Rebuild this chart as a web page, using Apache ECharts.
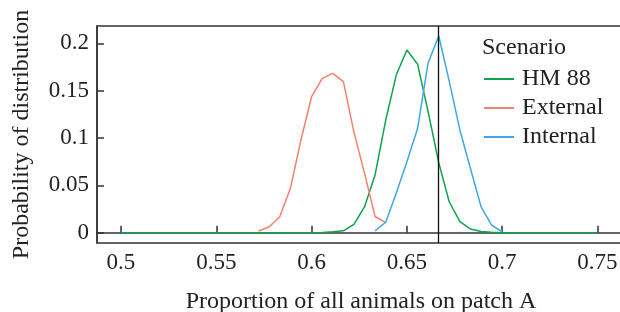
<!DOCTYPE html>
<html>
<head>
<meta charset="utf-8">
<style>
  html, body { margin: 0; padding: 0; background: #fff; }
  #chart { width: 620px; height: 312px; }
</style>
<script src="https://cdn.jsdelivr.net/npm/echarts@6/dist/echarts.min.js"></script>
</head>
<body>
<div id="chart"></div>
<script>
// proportion of animals on patch A (k / 180)
const proportion = [
  0.5, 0.5056, 0.5111, 0.5167, 0.5222, 0.5278, 0.5333, 0.5389, 0.5444, 0.55,
  0.5556, 0.5611, 0.5667, 0.5722, 0.5778, 0.5833, 0.5889, 0.5944, 0.6, 0.6056,
  0.6111, 0.6167, 0.6222, 0.6278, 0.6333, 0.6389, 0.6444, 0.65, 0.6556, 0.6611,
  0.6667, 0.6722, 0.6778, 0.6833, 0.6889, 0.6944, 0.7, 0.7056, 0.7111, 0.7167,
  0.7222, 0.7278, 0.7333, 0.7389, 0.7444, 0.75
];
const hm88 = [
  0, 0, 0, 0, 0, 0, 0, 0, 0, 0,
  0, 0, 0, 0, 0, 0, 0, 0, 0, 0.0003,
  0.001, 0.002, 0.0089, 0.0275, 0.061, 0.119, 0.1665, 0.193, 0.178, 0.128,
  0.074, 0.0327, 0.0116, 0.004, 0.0013, 0.0004, 0, 0, 0, 0,
  0, 0, 0, 0, 0, 0
];
const external = [
  null, null, null, null, null, null, null, null, null, null,
  null, null, null, 0.0018, 0.0063, 0.0169, 0.0469, 0.0979, 0.1436, 0.163,
  0.1683, 0.1595, 0.1063, 0.0627, 0.0171, 0.0106, null, null, null, null,
  null, null, null, null, null, null, null, null, null, null,
  null, null, null, null, null, null
];
const internal = [
  null, null, null, null, null, null, null, null, null, null,
  null, null, null, null, null, null, null, null, null, null,
  null, null, null, null, 0.002, 0.011, 0.0416, 0.075, 0.11, 0.179,
  0.2077, 0.16, 0.1085, 0.068, 0.0275, 0.0081, 0.001, null, null, null,
  null, null, null, null, null, null
];
const xTicks = [0.5, 0.55, 0.6, 0.65, 0.7, 0.75];
const yTicks = [0, 0.05, 0.1, 0.15, 0.2];
const equilibrium = 0.6667;

const scenarios = [
  { name: 'HM 88', values: hm88, color: '#10a24f' },
  { name: 'External', values: external, color: '#f5806f' },
  { name: 'Internal', values: internal, color: '#3ea7e3' },
];

const font = 'Liberation Serif';
const ink = '#222';

const chart = echarts.init(document.getElementById('chart'));

const series = scenarios.map((s) => ({
  name: s.name,
  type: 'line',
  data: proportion.map((x, i) => [x, s.values[i]]),
  showSymbol: false,
  connectNulls: false,
  lineStyle: { color: s.color, width: 1.5 },
  itemStyle: { color: s.color },
  z: 3,
}));

// vertical reference line at 2/3
series[0].markLine = {
  silent: true,
  symbol: 'none',
  precision: 4,
  label: { show: false },
  lineStyle: { color: '#111', width: 1.3, type: 'solid' },
  data: [{ xAxis: equilibrium }],
};

chart.setOption({
  animation: false,
  backgroundColor: '#fff',
  title: {
    text: 'Scenario',
    left: 482,
    top: 36,
    padding: 0,
    textStyle: { fontFamily: font, fontSize: 24, fontWeight: 'normal', color: ink, lineHeight: 24 },
  },
  legend: {
    orient: 'vertical',
    left: 484,
    top: 67,
    padding: 0,
    itemGap: 5,
    itemWidth: 30,
    itemHeight: 2,
    icon: 'rect',
    textStyle: { fontFamily: font, fontSize: 24, color: ink, lineHeight: 24, padding: [0, 0, 0, 3] },
    data: scenarios.map((s) => s.name),
  },
  grid: {
    left: 97,
    top: 26,
    right: -5,
    bottom: 69,
    outerBoundsMode: 'none',
    containLabel: false,
    show: true,
    borderColor: '#333',
    borderWidth: 1.5,
    backgroundColor: 'transparent',
  },
  xAxis: {
    type: 'value',
    min: 0.48741,
    max: 0.76443,
    name: 'Proportion of all animals on patch A',
    nameLocation: 'middle',
    nameGap: 47,
    nameTextStyle: { fontFamily: font, fontSize: 24, color: ink },
    axisLine: { show: true, lineStyle: { color: '#333', width: 1.5 } },
    axisTick: { show: true, inside: true, length: 7, customValues: xTicks, lineStyle: { color: '#333', width: 1.5 } },
    axisLabel: { fontFamily: font, fontSize: 23, color: ink, margin: 8, customValues: xTicks },
    splitLine: { show: false },
  },
  yAxis: {
    type: 'value',
    min: -0.01088,
    max: 0.2183,
    name: 'Probability of distribution',
    nameLocation: 'middle',
    nameGap: 63,
    nameTextStyle: { fontFamily: font, fontSize: 24, color: ink },
    axisLine: { show: true, lineStyle: { color: '#333', width: 1.5 } },
    axisTick: { show: true, inside: true, length: 7, customValues: yTicks, lineStyle: { color: '#333', width: 1.5 } },
    axisLabel: { fontFamily: font, fontSize: 23, color: ink, margin: 8, customValues: yTicks },
    splitLine: { show: false },
  },
  series: series,
});
</script>
</body>
</html>
